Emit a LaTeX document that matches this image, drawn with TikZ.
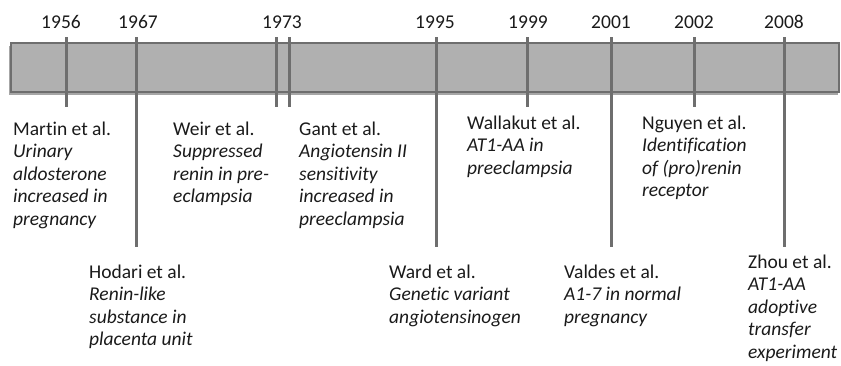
\documentclass[tikz,border=0pt]{standalone}
\usepackage{fontspec}
\setmainfont{Carlito}[Ligatures=NoCommon]
\definecolor{barfill}{HTML}{B0B0B0}
\definecolor{bardraw}{HTML}{6E6E6E}
\definecolor{txt}{HTML}{1A1A1A}
\begin{document}
\begin{tikzpicture}[x=1pt,y=-1pt,
  bar/.style={fill=barfill,draw=bardraw,line width=2pt},
  tickline/.style={draw=bardraw,line width=3pt},
  year/.style={font=\fontsize{19.5}{22.5}\selectfont,text=txt,inner sep=0pt,anchor=base},
  entry/.style={font=\fontsize{19.5}{22.5}\selectfont,text=txt,inner sep=0pt,anchor=base west,align=left}]
\useasboundingbox (0,0) rectangle (841,365);
% shadow + bar
\fill[black!35] (9,46) rectangle (838,95);
\draw[bar] (11,43) rectangle (839,92);
% ticks
\foreach \n/\x/\b in {a/66.7/107, b/136/247, c/276/107, d/289/107, e/436/247, f/527/107, g/611/247, h/694/107, i/784/247}{
  \coordinate (\n top) at (\x,37);
  \coordinate (\n bot) at (\x,\b);
  \draw[tickline] (\n top) -- (\n bot);
}
% years
\node[year] (y1956) at (61,28) {1956};
\node[year] (y1967) at (138,28) {1967};
\node[year] (y1973) at (282,28) {1973};
\node[year] (y1995) at (435,28) {1995};
\node[year] (y1999) at (528,28) {1999};
\node[year] (y2001) at (611,28) {2001};
\node[year] (y2002) at (694,28) {2002};
\node[year] (y2008) at (784,28) {2008};
% entries (anchor = baseline of last line)
\node[entry] (martin) at (13,225) {Martin et al.\\ \textit{Urinary}\\ \textit{aldosterone}\\ \textit{increased in}\\ \textit{pregnancy}};
\node[entry] (weir) at (173,202.5) {Weir et al.\\ \textit{Suppressed}\\ \textit{renin in pre-}\\ \textit{eclampsia}};
\node[entry] (gant) at (299,225) {Gant et al.\\ \textit{Angiotensin II}\\ \textit{sensitivity}\\ \textit{increased in}\\ \textit{preeclampsia}};
\node[entry] (hodari) at (89,345.5) {Hodari et al.\\ \textit{Renin-like}\\ \textit{substance in}\\ \textit{placenta unit}};
\node[entry] (ward) at (389,323) {Ward et al.\\ \textit{Genetic variant}\\ \textit{angiotensinogen}};
\node[entry] (wallakut) at (467,174) {Wallakut et al.\\ \textit{AT1-AA in}\\ \textit{preeclampsia}};
\node[entry] (nguyen) at (642,196.5) {Nguyen et al.\\ \textit{Identification}\\ \textit{of (pro)renin}\\ \textit{receptor}};
\node[entry] (valdes) at (564,323) {Valdes et al.\\ \textit{A1-7 in normal}\\ \textit{pregnancy}};
\node[entry] (zhou) at (748,358) {Zhou et al.\\ \textit{AT1-AA}\\ \textit{adoptive}\\ \textit{transfer}\\ \textit{experiment}};
\end{tikzpicture}
\end{document}
